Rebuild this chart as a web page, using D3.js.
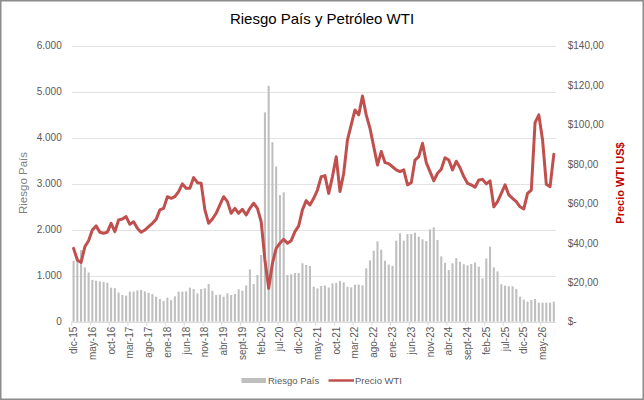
<!DOCTYPE html>
<html>
<head>
<meta charset="utf-8">
<script src="https://cdn.jsdelivr.net/npm/d3@7"></script>
<style>
  html, body { margin: 0; padding: 0; background: #fff; }
  svg { display: block; font-family: "Liberation Sans", Arial, sans-serif; }
</style>
</head>
<body>
<svg id="chart" width="644" height="400"></svg>
<script>
// ---------- DATA ----------
const monthNames = ["ene","feb","mar","abr","may","jun","jul","ago","sept","oct","nov","dic"];
const startMonthIndex = 11; // dic
const startYear = 15;
const nPoints = 129;
const categories = d3.range(nPoints).map(i => {
  const m = (startMonthIndex + i) % 12;
  const y = startYear + Math.floor((startMonthIndex + i) / 12);
  return monthNames[m] + "-" + y;
});

const tickLabels = ["dic-15","may-16","oct-16","mar-17","ago-17","ene-18","jun-18","nov-18",
  "abr-19","sept-19","feb-20","jul-20","dic-20","may-21","oct-21","mar-22","ago-22","ene-23",
  "jun-23","nov-23","abr-24","sept-24","feb-25","jul-25","dic-25","may-26"];

const riesgoPais = [
  1326,1413,1558,1182,1070,906,890,876,862,845,742,730,
  635,580,566,655,655,680,690,660,628,602,544,493,
  450,523,471,551,653,653,660,740,711,617,711,725,
  819,674,580,590,544,617,580,602,703,674,790,1140,
  819,1015,1450,4550,5130,3900,3375,2752,2812,1015,1030,1058,
  1058,1270,1233,1210,761,725,775,787,743,834,840,884,
  855,761,747,805,805,790,1160,1333,1543,1747,1565,1326,
  1243,1214,1761,1920,1761,1906,1906,1935,1848,1790,1754,2007,
  2051,1775,1420,1280,1123,1269,1381,1304,1250,1225,1254,1287,
  1196,942,1377,1630,1182,1095,815,783,768,768,714,544,
  480,436,471,493,413,413,413,413,436
];

const precioWTI = [
  37.2,31.3,30.1,38.0,41.1,46.5,48.6,45.4,44.9,45.4,49.9,45.7,
  51.6,52.1,53.3,49.4,50.7,47.4,45.4,46.5,48.2,49.9,51.9,56.7,
  57.5,63.4,62.6,63.4,66.0,69.9,67.7,67.7,73.1,70.5,70.2,56.7,
  49.9,52.1,55.0,59.2,63.4,60.9,55.0,57.5,55.0,57.0,54.1,57.5,
  60.1,57.5,50.7,31.3,16.9,29.6,37.2,39.8,41.8,39.8,41.1,45.7,
  48.6,56.7,61.4,59.2,62.6,66.8,73.6,74.1,65.1,73.6,83.7,66.0,
  75.3,92.2,99.8,107.4,104.9,114.5,104.9,98.1,88.8,79.5,86.3,80.7,
  80.2,78.6,77.0,76.1,77.0,69.4,70.5,82.0,83.7,90.5,80.7,76.1,
  71.5,75.3,77.3,83.2,82.0,77.0,81.4,78.1,73.6,70.2,69.4,68.2,
  71.9,72.2,69.9,71.4,58.3,60.9,65.1,69.4,64.3,62.6,60.9,58.3,
  57.2,65.1,66.8,101.0,104.9,92.2,69.7,68.5,84.9
];

const leftTicks = [0,1000,2000,3000,4000,5000,6000];
const rightTicks = [0,20,40,60,80,100,120,140];

const title = "Riesgo País y Petróleo WTI";
const leftTitle = "Riesgo País";
const rightTitle = "Precio WTI US$";
const seriesNames = ["Riesgo País", "Precio WTI"];

// ---------- CHART ----------
const W = 644, H = 400;
const plot = { left: 71.7, right: 555.7, top: 45.7, bottom: 321.7 };

const svg = d3.select("#chart");
const locale = d3.formatLocale({ decimal: ",", thousands: ".", grouping: [3], currency: ["$", ""] });
const fmtLeft = locale.format(",.0f");
const fmtRight = v => v === 0 ? "$-" : "$" + locale.format(",.2f")(v);

// background + border
svg.append("rect").attr("x", 0.75).attr("y", 0.75).attr("width", W - 1.5).attr("height", H - 1.5)
  .attr("fill", "#fff").attr("stroke", "#8c8c8c").attr("stroke-width", 1.5);

const x = d3.scaleBand().domain(categories).range([plot.left, plot.right]).paddingInner(0.45).paddingOuter(0.225);
const xc = d => x(d) + x.bandwidth() / 2;
const yL = d3.scaleLinear().domain([0, 6000]).range([plot.bottom, plot.top]);
const yR = d3.scaleLinear().domain([0, 140]).range([plot.bottom, plot.top]);

// gridlines
svg.append("g").selectAll("line").data(leftTicks).join("line")
  .attr("x1", plot.left).attr("x2", plot.right)
  .attr("y1", d => Math.round(yL(d)) + 0.5).attr("y2", d => Math.round(yL(d)) + 0.5)
  .attr("stroke", "#e3e3e3").attr("stroke-width", 1);

// bars
svg.append("g").selectAll("rect").data(riesgoPais).join("rect")
  .attr("x", (d, i) => x(categories[i]))
  .attr("width", x.bandwidth())
  .attr("y", d => yL(d))
  .attr("height", d => yL(0) - yL(d))
  .attr("fill", "#bfbfbf");

// x axis
const xAxis = d3.axisBottom(x).tickValues(tickLabels).tickSize(0).tickPadding(0);
const gx = svg.append("g").attr("transform", `translate(0,${plot.bottom})`).call(xAxis);
gx.select(".domain").attr("stroke", "#d9d9d9");
gx.selectAll(".tick text")
  .attr("transform", "rotate(-90)")
  .attr("x", -5).attr("y", 0).attr("dy", "0.35em")
  .attr("text-anchor", "end")
  .attr("fill", "#595959").attr("font-size", 10).attr("font-family", "Liberation Sans, Arial, sans-serif");
// tick marks at boundaries of every 5th category
svg.append("g").selectAll("line").data(tickLabels).join("line")
  .attr("x1", d => x(d) - x.step() * x.paddingInner() / 2)
  .attr("x2", d => x(d) - x.step() * x.paddingInner() / 2)
  .attr("y1", plot.bottom).attr("y2", plot.bottom + 4)
  .attr("stroke", "#d9d9d9");

// left axis
const gl = svg.append("g").attr("transform", `translate(${plot.left - 10},0)`)
  .call(d3.axisLeft(yL).tickValues(leftTicks).tickSize(0).tickPadding(0).tickFormat(fmtLeft));
gl.select(".domain").remove();
gl.selectAll(".tick text").attr("fill", "#595959").attr("font-size", 10).attr("font-family", "Liberation Sans, Arial, sans-serif");

// right axis
const gr = svg.append("g").attr("transform", `translate(${plot.right + 12},0)`)
  .call(d3.axisRight(yR).tickValues(rightTicks).tickSize(0).tickPadding(0).tickFormat(fmtRight));
gr.select(".domain").remove();
gr.selectAll(".tick text").attr("fill", "#595959").attr("font-size", 10).attr("font-family", "Liberation Sans, Arial, sans-serif");

// line
const line = d3.line().x((d, i) => xc(categories[i])).y(d => yR(d)).curve(d3.curveLinear);
svg.append("path").datum(precioWTI)
  .attr("d", line).attr("fill", "none")
  .attr("stroke", "#c0504d").attr("stroke-width", 3)
  .attr("stroke-linejoin", "round").attr("stroke-linecap", "round");

// titles
svg.append("text").attr("x", 322).attr("y", 24).attr("text-anchor", "middle")
  .attr("font-size", 15).attr("fill", "#000").text(title);

svg.append("text").attr("transform", "translate(27,183) rotate(-90)").attr("text-anchor", "middle")
  .attr("font-size", 11.5).attr("fill", "#7f7f7f").text(leftTitle);

svg.append("text").attr("transform", "translate(624,183) rotate(-90)").attr("text-anchor", "middle")
  .attr("font-size", 11).attr("font-weight", "bold").attr("fill", "#c00000").text(rightTitle);

// legend
const lg = svg.append("g").attr("transform", "translate(0,380.5)");
lg.append("rect").attr("x", 241.5).attr("y", -2.5).attr("width", 24.5).attr("height", 5).attr("fill", "#bfbfbf");
lg.append("text").attr("x", 268).attr("y", 0).attr("dy", "0.35em").attr("font-size", 9.5).attr("fill", "#595959").text(seriesNames[0]);
lg.append("line").attr("x1", 328.5).attr("x2", 354).attr("y1", 0).attr("y2", 0).attr("stroke", "#c0504d").attr("stroke-width", 2.5);
lg.append("text").attr("x", 355).attr("y", 0).attr("dy", "0.35em").attr("font-size", 9.5).attr("fill", "#595959").text(seriesNames[1]);
</script>
</body>
</html>
